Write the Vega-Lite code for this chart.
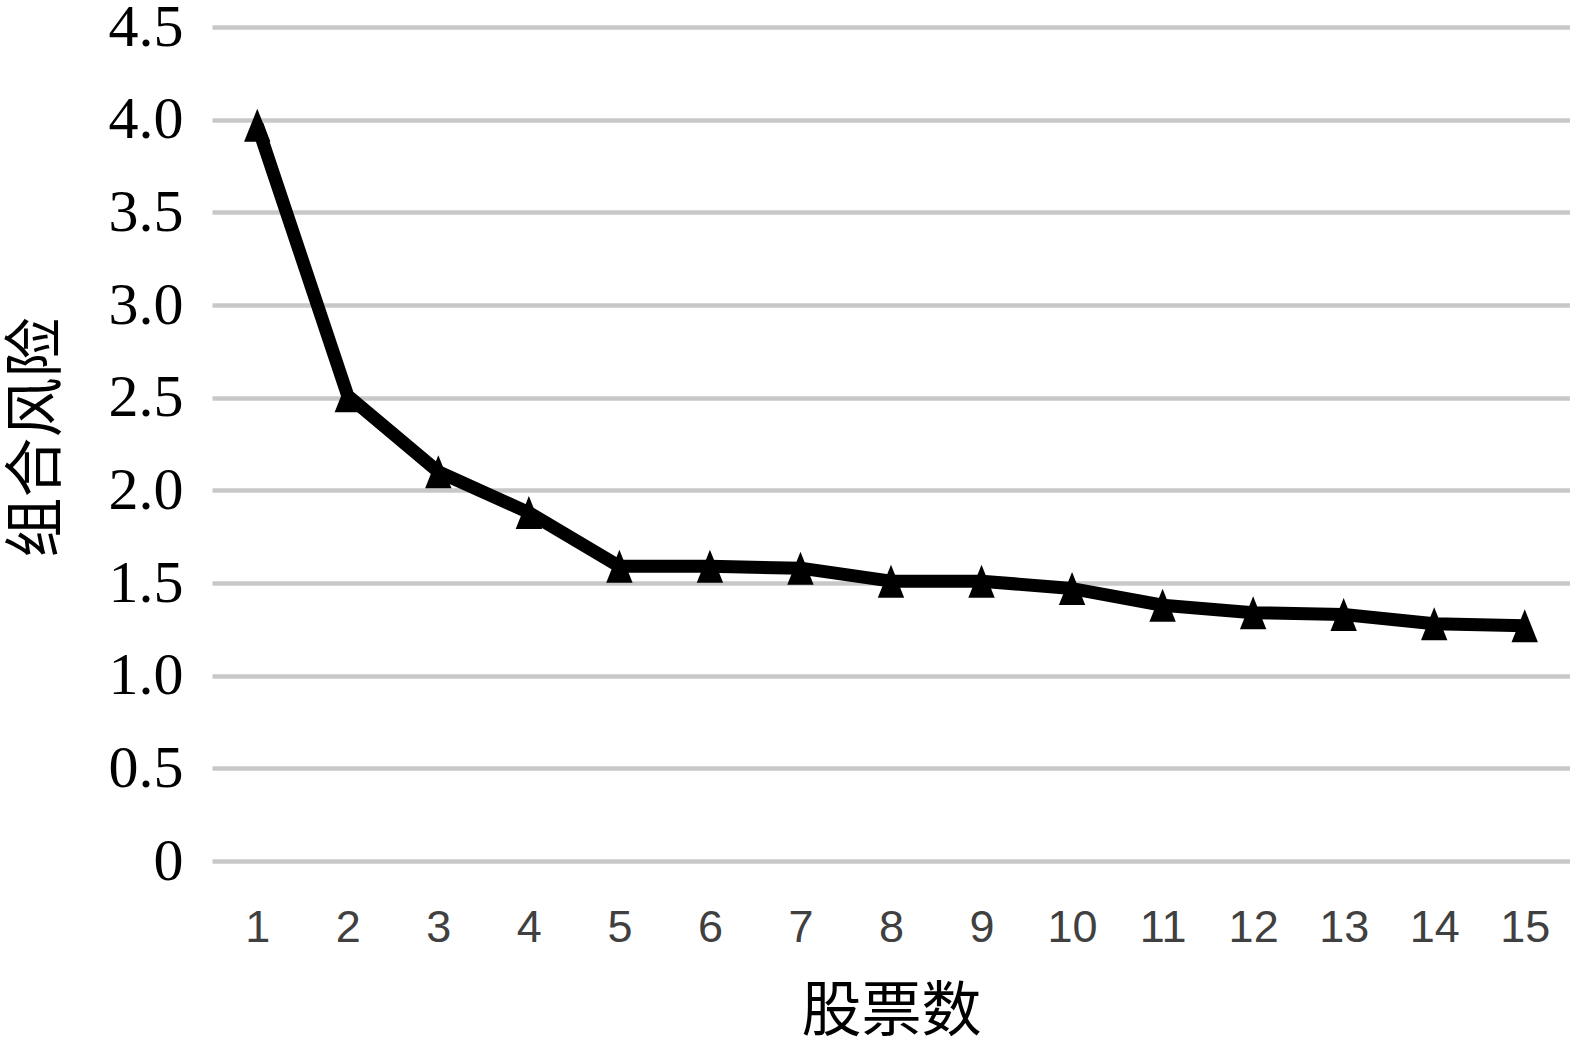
{
  "$schema": "https://vega.github.io/schema/vega-lite/v6.json",
  "width": 1358,
  "height": 834,
  "autosize": "none",
  "padding": {"left": 212, "top": 27, "right": 0, "bottom": 187},
  "background": "white",
  "config": {"view": {"stroke": null}},
  "data": {
    "values": [
      {"n": 1, "risk": 3.97},
      {"n": 2, "risk": 2.51},
      {"n": 3, "risk": 2.10},
      {"n": 4, "risk": 1.88},
      {"n": 5, "risk": 1.59},
      {"n": 6, "risk": 1.59},
      {"n": 7, "risk": 1.58},
      {"n": 8, "risk": 1.51},
      {"n": 9, "risk": 1.51},
      {"n": 10, "risk": 1.47},
      {"n": 11, "risk": 1.38},
      {"n": 12, "risk": 1.34},
      {"n": 13, "risk": 1.33},
      {"n": 14, "risk": 1.28},
      {"n": 15, "risk": 1.27}
    ]
  },
  "encoding": {
    "x": {
      "field": "n",
      "type": "ordinal",
      "scale": {"paddingInner": 0, "paddingOuter": 0},
      "axis": {
        "title": "股票数",
        "labelAngle": 0,
        "labelFont": "Liberation Sans Narrow, Liberation Sans",
        "labelFontSize": 45,
        "labelColor": "#404040",
        "labelPadding": 44,
        "labelBaseline": "top",
        "domain": false,
        "ticks": false,
        "grid": false,
        "titleFont": "Noto Sans CJK SC",
        "titleFontSize": 60,
        "titleFontWeight": "normal",
        "titleColor": "#000000",
        "titleBaseline": "middle",
        "titleY": 151
      }
    },
    "y": {
      "field": "risk",
      "type": "quantitative",
      "scale": {"domain": [0, 4.5], "nice": false, "zero": true},
      "axis": {
        "title": "组合风险",
        "values": [0, 0.5, 1, 1.5, 2, 2.5, 3, 3.5, 4, 4.5],
        "labelExpr": "datum.value == 0 ? '0' : format(datum.value, '.1f')",
        "labelFont": "Liberation Serif",
        "labelFontSize": 60,
        "labelColor": "#000000",
        "labelPadding": 29,
        "domain": false,
        "ticks": false,
        "grid": true,
        "gridColor": "#c8c8c8",
        "gridWidth": 4.5,
        "gridOpacity": 1,
        "titleFont": "Noto Sans CJK SC",
        "titleFontSize": 60,
        "titleFontWeight": "normal",
        "titleColor": "#000000",
        "titleAngle": -90,
        "titleBaseline": "middle",
        "titleAlign": "center",
        "titleX": -175,
        "titleY": 410
      }
    }
  },
  "layer": [
    {
      "mark": {"type": "line", "color": "#000000", "strokeWidth": 13, "strokeJoin": "round"}
    },
    {
      "mark": {
        "type": "point",
        "shape": "M0,-1L-0.8,1L0.8,1Z",
        "filled": true,
        "color": "#000000",
        "opacity": 1,
        "size": 1089
      }
    }
  ]
}
